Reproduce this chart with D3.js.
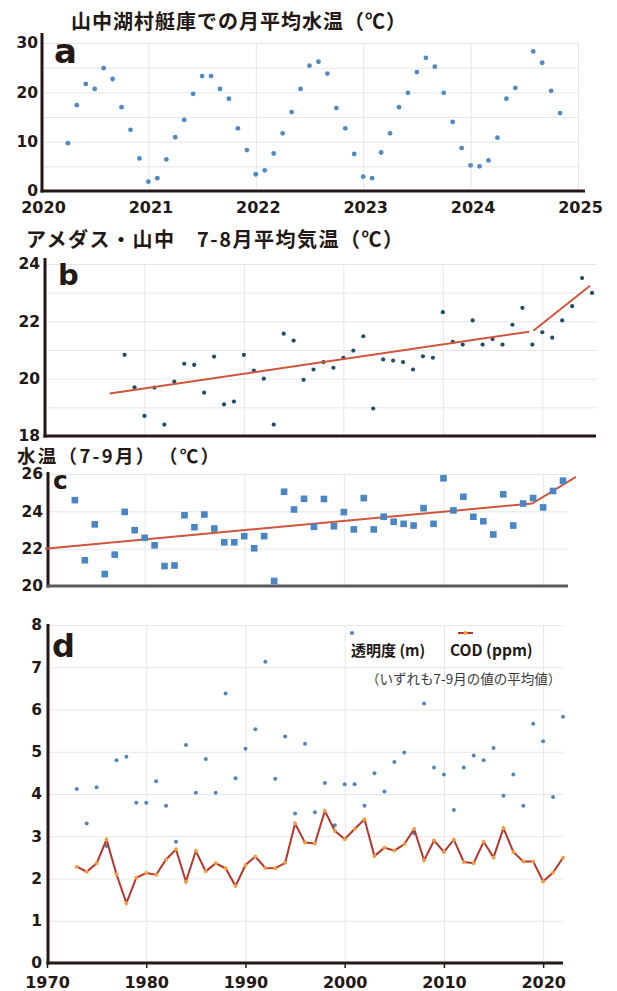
<!DOCTYPE html>
<html><head><meta charset="utf-8">
<script src="https://cdn.jsdelivr.net/npm/d3@7"></script>
<style>
body{margin:0;background:#fff}
svg{display:block}
</style></head><body>
<svg id="chart" width="617" height="991"></svg>
<script>
// ---- a: monthly mean water temperature at the boathouse (index = month 0..11)
const monthly2020 = [null,null,null,9.7,17.4,21.7,20.7,24.9,22.7,17.0,12.4,6.6];
const monthly2021 = [1.9,2.6,6.4,10.9,14.4,19.7,23.3,23.3,20.7,18.7,12.7,8.3];
const monthly2022 = [3.4,4.2,7.6,11.7,16.0,20.7,25.4,26.2,23.8,16.8,12.7,7.5];
const monthly2023 = [2.9,2.6,7.8,11.7,17.0,19.9,24.1,27.0,25.2,19.9,14.0,8.7];
const monthly2024 = [5.2,5.0,6.2,10.8,18.7,20.9,null,28.3,26.0,20.3,15.8,null];
const monthlyYears = [2020,2021,2022,2023,2024];
const monthlyRows = [monthly2020,monthly2021,monthly2022,monthly2023,monthly2024];
const aYTicks = [0,10,20,30];
const aXTicks = [2020,2021,2022,2023,2024,2025];

// ---- b: AMeDAS Yamanaka, Jul-Aug mean air temperature
const airYears = d3.range(1978, 2026);
const airTemp = [20.83,19.70,18.70,19.69,18.40,19.90,20.52,20.48,19.51,20.77,19.10,19.20,
  20.83,20.28,20.00,18.40,21.57,21.33,19.96,20.32,20.58,20.38,20.73,20.98,21.48,18.96,
  20.67,20.63,20.58,20.32,20.78,20.73,22.32,21.28,21.19,22.03,21.19,21.38,21.19,21.88,
  22.47,21.19,21.62,21.43,22.03,22.53,23.51,22.99];
const airTrendEarly = [[1976.5,19.48],[2018.7,21.64]];
const airTrendRecent = [[2019.1,21.67],[2024.8,23.24]];
const bYTicks = [18,20,22,24];

// ---- c: lake water temperature, Jul-Sep mean
const waterYears = d3.range(1973, 2023);
const waterTemp = [24.60,21.38,23.30,20.64,21.68,23.97,22.99,22.58,22.18,21.07,21.10,23.79,
  23.15,23.83,23.08,22.34,22.34,22.67,22.02,22.67,20.27,25.05,24.10,24.67,23.17,24.66,
  23.20,23.96,23.03,24.71,23.03,23.71,23.44,23.33,23.24,24.17,23.33,25.77,24.05,24.78,
  23.71,23.47,22.76,24.91,23.24,24.42,24.71,24.21,25.09,25.64];
const waterTrend = [[1970,22.0],[2018.9,24.42],[2023.3,25.85]];
const cYTicks = [20,22,24,26];

// ---- d: transparency (m) and COD (ppm), Jul-Sep means
const dYears = d3.range(1973, 2023);
const transparency = [4.12,3.30,4.16,2.77,4.80,4.88,3.79,3.79,4.30,3.72,2.87,5.16,4.03,
  4.83,4.03,6.38,4.37,5.07,5.53,7.13,4.36,5.36,3.54,5.19,3.57,4.26,3.26,4.23,4.23,3.72,
  4.49,4.06,4.76,4.98,3.07,6.14,4.63,4.46,3.62,4.63,4.91,4.80,5.09,3.96,4.46,3.72,5.66,
  5.25,3.93,5.83];
const cod = [2.28,2.16,2.36,2.92,2.10,1.42,2.02,2.13,2.09,2.45,2.69,1.93,2.65,2.17,2.36,
  2.24,1.82,2.32,2.52,2.25,2.24,2.37,3.30,2.85,2.83,3.60,3.13,2.93,3.17,3.40,2.53,2.73,
  2.66,2.81,3.17,2.43,2.90,2.63,2.92,2.39,2.36,2.87,2.50,3.19,2.63,2.40,2.40,1.93,2.14,2.49];
const dYTicks = [0,1,2,3,4,5,6,7,8];
const decadeTicks = [1970,1980,1990,2000,2010,2020];

const INK = "#231815";
const GRID = "#e6e6e6";
const NUM_FONT = '"DejaVu Sans", sans-serif';
const JP_FONT = '"Noto Sans CJK JP", sans-serif';
const TREND = "#d0553c";

const svg = d3.select("#chart");

function drawGrid(x, y, xTicks, yTicks) {
  const [xl, xr] = x.range();
  const [yb, yt] = y.range();
  const g = svg.append("g");
  g.append("g").attr("transform", `translate(0,${yb})`)
    .call(d3.axisBottom(x).tickValues(xTicks).tickSize(-(yb - yt)).tickFormat(""))
    .call(s => s.select(".domain").remove())
    .selectAll("line").attr("stroke", GRID).attr("stroke-width", 1);
  g.append("g").attr("transform", `translate(${xl},0)`)
    .call(d3.axisLeft(y).tickValues(yTicks).tickSize(-(xr - xl)).tickFormat(""))
    .call(s => s.select(".domain").remove())
    .selectAll("line").attr("stroke", GRID).attr("stroke-width", 1);
}

function yLabels(y, ticks, axisX, pad) {
  svg.append("g").attr("transform", `translate(${axisX},0)`)
    .call(d3.axisLeft(y).tickValues(ticks).tickSize(0).tickPadding(pad).tickFormat(d3.format("d")))
    .call(s => s.select(".domain").remove())
    .selectAll("text")
    .attr("font-family", NUM_FONT).attr("font-weight", "bold")
    .attr("font-size", 15.5).attr("fill", INK);
}

function axisLines(axisX, top, baseY, right, bottomColor) {
  svg.append("line").attr("x1", axisX).attr("x2", axisX).attr("y1", top).attr("y2", baseY + 1.5)
    .attr("stroke", INK).attr("stroke-width", 3);
  svg.append("line").attr("x1", axisX - 1.5).attr("x2", right).attr("y1", baseY).attr("y2", baseY)
    .attr("stroke", bottomColor || INK).attr("stroke-width", 3);
}

function title(text, x, y, size, spacing) {
  svg.append("text").attr("x", x).attr("y", y).attr("dominant-baseline", "central")
    .attr("font-family", JP_FONT).attr("font-weight", 700).attr("font-size", size)
    .attr("letter-spacing", spacing).attr("fill", INK).text(text);
}

function letter(t, x, y, size) {
  svg.append("text").attr("x", x).attr("y", y)
    .attr("font-family", NUM_FONT).attr("font-weight", "bold").attr("font-size", size)
    .attr("fill", INK).text(t);
}

// ================= a =================
{
  const x = d3.scaleLinear().domain([2020, 2025]).range([41, 578]);
  const y = d3.scaleLinear().domain([0, 30]).range([191, 43]);
  drawGrid(x, y, [2021,2022,2023,2024,2025], [5,10,15,20,25,30]);
  axisLines(42, 33, 191, 585);
  yLabels(y, aYTicks, 42, 4);
  svg.append("g").attr("transform", "translate(0,191)")
    .call(d3.axisBottom(x).tickValues(aXTicks).tickSize(0).tickPadding(10.5).tickFormat(d3.format("d")))
    .call(s => s.select(".domain").remove())
    .selectAll("text").attr("font-family", NUM_FONT).attr("font-weight", "bold")
    .attr("font-size", 16).attr("fill", INK).attr("dx", 2);
  const pts = [];
  monthlyRows.forEach((row, i) => row.forEach((v, m) => {
    if (v != null) pts.push({t: monthlyYears[i] + m / 12, v});
  }));
  svg.append("g").selectAll("circle").data(pts).join("circle")
    .attr("cx", d => x(d.t)).attr("cy", d => y(d.v)).attr("r", 2.4)
    .attr("fill", "#4f8ac2");
  title("山中湖村艇庫での月平均水温（℃）", 71, 20, 20, 1);
  letter("a", 54, 63, 34);
}

// ================= b =================
{
  const x = d3.scaleLinear().domain([1970, 2025.5]).range([45, 597]);
  const y = d3.scaleLinear().domain([18, 24]).range([436, 264]);
  drawGrid(x, y, [1980,1990,2000,2010,2020], [19,20,21,22,23,24]);
  axisLines(45, 258, 436, 596);
  yLabels(y, bYTicks, 45, 5);
  svg.append("g").selectAll("circle").data(airYears).join("circle")
    .attr("cx", d => x(d)).attr("cy", (d, i) => y(airTemp[i])).attr("r", 2.1)
    .attr("fill", "#1e4d6b");
  const line = d3.line().x(d => x(d[0])).y(d => y(d[1]));
  [airTrendEarly, airTrendRecent].forEach(seg =>
    svg.append("path").attr("d", line(seg)).attr("fill", "none")
      .attr("stroke", TREND).attr("stroke-width", 2));
  title("アメダス・山中　7-8月平均気温（℃）", 26, 238, 20, 1.5);
  letter("b", 58, 285, 29);
}

// ================= c =================
{
  const x = d3.scaleLinear().domain([1970, 2022.5]).range([45, 568]);
  const y = d3.scaleLinear().domain([20, 26]).range([586, 474]);
  drawGrid(x, y, [1980,1990,2000,2010,2020], [22,24,26]);
  axisLines(48, 472, 586, 568, "#5b5b5b");
  yLabels(y, cYTicks, 48, 5);
  svg.append("path").attr("d", d3.line().x(d => x(d[0])).y(d => y(d[1]))(waterTrend))
    .attr("fill", "none").attr("stroke", TREND).attr("stroke-width", 2);
  svg.append("g").selectAll("rect").data(waterYears).join("rect")
    .attr("x", d => x(d) - 3.3).attr("y", (d, i) => y(waterTemp[i]) - 3.3)
    .attr("width", 6.6).attr("height", 6.6).attr("fill", "#4a86c4");
  title("水温（7-9月）　（℃）", 17, 455, 18.5, 2.3);
  letter("c", 53, 489, 25);
}

// ================= d =================
{
  const x = d3.scaleLinear().domain([1970, 2022]).range([47, 563]);
  const y = d3.scaleLinear().domain([0, 8]).range([963, 625]);
  drawGrid(x, y, [1980,1990,2000,2010,2020], [1,2,3,4,5,6,7,8]);
  axisLines(48, 624, 963, 563);
  yLabels(y, dYTicks, 48, 6);
  svg.append("g").attr("transform", "translate(0,963)")
    .call(d3.axisBottom(x).tickValues(decadeTicks).tickSize(5).tickPadding(9).tickFormat(d3.format("d")))
    .call(s => s.select(".domain").remove())
    .call(s => s.selectAll("line").attr("stroke", INK).attr("stroke-width", 1.5))
    .selectAll("text").attr("font-family", NUM_FONT).attr("font-weight", "bold")
    .attr("font-size", 16).attr("fill", INK);
  svg.append("g").selectAll("circle").data(dYears).join("circle")
    .attr("cx", d => x(d)).attr("cy", (d, i) => y(transparency[i])).attr("r", 2)
    .attr("fill", "#4f86bd");
  svg.append("path")
    .attr("d", d3.line().x(d => x(d)).y((d, i) => y(cod[i]))(dYears))
    .attr("fill", "none").attr("stroke", "#b8352b").attr("stroke-width", 2);
  svg.append("g").selectAll("circle").data(dYears).join("circle")
    .attr("cx", d => x(d)).attr("cy", (d, i) => y(cod[i])).attr("r", 2)
    .attr("fill", "#efa03e");

  // legend
  const lg = svg.append("g");
  lg.append("circle").attr("cx", 352).attr("cy", 633).attr("r", 2).attr("fill", "#4f86bd");
  lg.append("text").attr("x", 351).attr("y", 649).attr("dominant-baseline", "central")
    .attr("font-family", JP_FONT).attr("font-weight", 700).attr("font-size", 15)
    .attr("fill", INK).text("透明度 (m)");
  lg.append("line").attr("x1", 458).attr("x2", 473).attr("y1", 633).attr("y2", 633)
    .attr("stroke", "#b8352b").attr("stroke-width", 2);
  lg.append("circle").attr("cx", 465.5).attr("cy", 633).attr("r", 2).attr("fill", "#efa03e");
  lg.append("text").attr("x", 450).attr("y", 649).attr("dominant-baseline", "central")
    .attr("font-family", JP_FONT).attr("font-weight", 700).attr("font-size", 15.5)
    .attr("fill", INK).text("COD (ppm)");
  lg.append("text").attr("x", 366).attr("y", 678).attr("dominant-baseline", "central")
    .attr("font-family", JP_FONT).attr("font-weight", 400).attr("font-size", 13.5)
    .attr("fill", "#3a3a3a").text("（いずれも7-9月の値の平均値）");
  letter("d", 52, 657, 32);
}
</script>
</body></html>
